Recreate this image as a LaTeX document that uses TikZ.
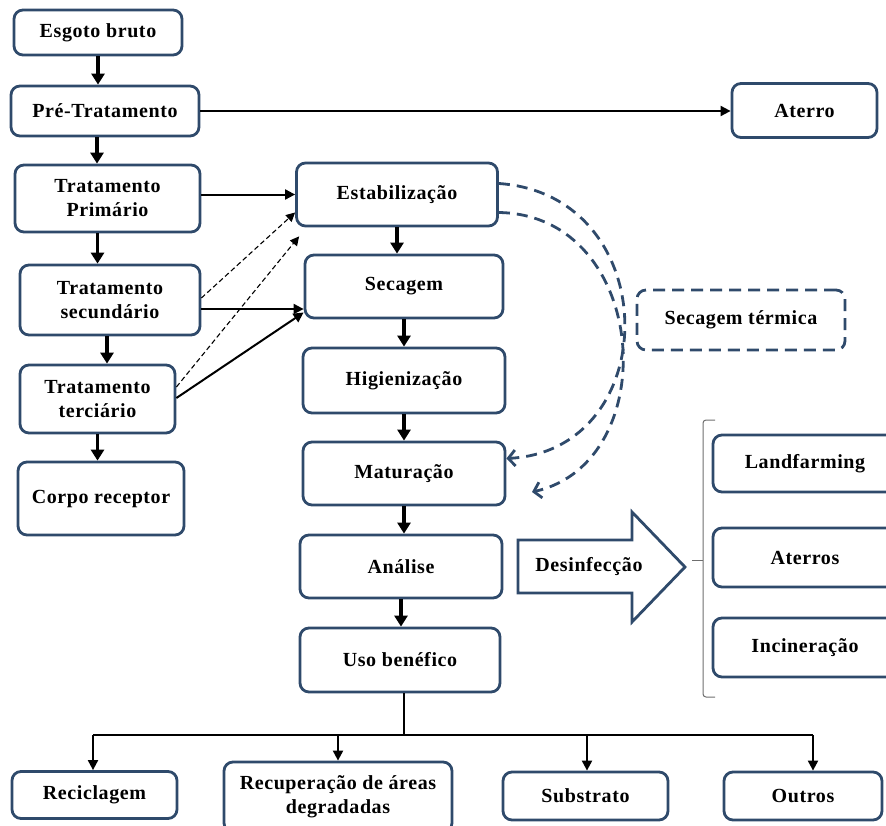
\documentclass[tikz,border=0pt]{standalone}
\usepackage{fontspec}
\setmainfont[LetterSpace=3]{Liberation Serif}
\usetikzlibrary{arrows.meta,calc}

\definecolor{navy}{HTML}{2F4A6B}
\definecolor{bracegray}{HTML}{6E6E6E}

\tikzset{
  box/.style={draw=navy, line width=2.8pt, rounded corners=9pt, fill=white,
    align=center, inner sep=0pt, font=\bfseries\fontsize{20}{24}\selectfont},
  flow/.style={line width=3.2pt, -{Triangle[length=11pt,width=13pt]}},
  link/.style={line width=2pt, -{Triangle[length=10pt,width=10pt]}},
  dlink/.style={line width=1.1pt, dash pattern=on 5pt off 3pt, -{Triangle[length=9pt,width=9pt]}},
  plain/.style={line width=2pt},
  loop/.style={draw=navy, line width=2.8pt, dash pattern=on 11pt off 7pt,
    -{Straight Barb[length=7pt,width=16pt]}},
  label/.style={font=\bfseries\fontsize{20}{24}\selectfont}
}

\begin{document}
\begin{tikzpicture}[x=1pt,y=-1pt]
\useasboundingbox (0,0) rectangle (886,825);
\clip (0,0) rectangle (886,825);

% left column: treatment line
\node[box, minimum width=168pt, minimum height=45pt] (esg)   at (98,32.5)   {Esgoto bruto};
\node[box, minimum width=188pt, minimum height=50pt] (pre)   at (105,111)   {Pré-Tratamento};
\node[box, minimum width=145pt, minimum height=54pt] (aterro) at (804.5,110.5) {Aterro};
\node[box, minimum width=185pt, minimum height=67pt] (prim)  at (107.5,198.5) {Tratamento\\Primário};
\node[box, minimum width=180pt, minimum height=70pt] (sec)   at (110,300)   {Tratamento\\secundário};
\node[box, minimum width=155pt, minimum height=68pt] (ter)   at (97.5,399)  {Tratamento\\terciário};
\node[box, minimum width=166pt, minimum height=73pt] (corpo) at (101,498.5) {Corpo receptor};

% central column: sludge processing
\node[box, minimum width=201pt, minimum height=63pt] (estab) at (397,194.5) {Estabilização};
\node[box, minimum width=198pt, minimum height=63pt] (secag) at (404,286.5) {Secagem};
\node[box, minimum width=202pt, minimum height=65pt] (hig)   at (404,380.5) {Higienização};
\node[box, minimum width=202pt, minimum height=63pt] (mat)   at (404,473.5) {Maturação};
\node[box, minimum width=202pt, minimum height=63pt] (anal)  at (401,566.5) {Análise};
\node[box, minimum width=200pt, minimum height=64pt] (uso)   at (400,660)   {Uso benéfico};

% thermal drying (dashed)
\node[box, dash pattern=on 12pt off 7pt, minimum width=208pt, minimum height=60pt] (sterm) at (741,320) {Secagem térmica};

% final destinations on the right
\node[box, minimum width=184pt, minimum height=57pt] (land) at (805,463.5) {Landfarming};
\node[box, minimum width=184pt, minimum height=59pt] (aters) at (805,557.5) {Aterros};
\node[box, minimum width=184pt, minimum height=59pt] (incin) at (805,647.5) {Incineração};

% beneficial uses at the bottom
\node[box, minimum width=165pt, minimum height=47pt] (recic) at (94.5,795)  {Reciclagem};
\node[box, minimum width=228pt, minimum height=70pt] (recup) at (338,797)   {Recuperação de áreas\\degradadas};
\node[box, minimum width=165pt, minimum height=48pt] (subs)  at (585.5,796) {Substrato};
\node[box, minimum width=158pt, minimum height=48pt] (outros) at (803,796)  {Outros};

% vertical flow, left column
\draw[flow] (esg.south) -- (esg.south |- pre.north);
\draw[flow] ([xshift=-8pt]pre.south) -- ([xshift=-8pt]pre.south |- prim.north);
\draw[flow] ([xshift=-10pt]prim.south) -- ([xshift=-10pt]prim.south |- sec.north);
\draw[flow] ([xshift=-3pt]sec.south) -- ([xshift=-3pt]sec.south |- ter.north);
\draw[flow] (ter.south) -- (ter.south |- corpo.north);

% pre-treatment residue to landfill
\draw[link] (pre.east) -- (pre.east -| aterro.west);

% treatment sludges to processing
\draw[link] (prim.east |- estab.west) -- (estab.west);
\draw[link] ([yshift=-9pt]sec.east) -- ([yshift=-9pt]sec.east -| secag.west);
\draw[link] ([yshift=1pt]ter.east) -- ([yshift=-26pt]secag.west);
\draw[dlink] ([yshift=2pt]sec.east) -- ([yshift=-18pt]estab.west);
\draw[dlink] ([yshift=12pt]ter.east) -- ([shift={(4pt,-9pt)}]estab.south west);

% vertical flow, central column
\draw[flow] (estab.south) -- (estab.south |- secag.north);
\draw[flow] (secag.south) -- (secag.south |- hig.north);
\draw[flow] (hig.south) -- (hig.south |- mat.north);
\draw[flow] (mat.south) -- (mat.south |- anal.north);
\draw[flow] (anal.south) -- (anal.south |- uso.north);

% thermal drying bypass loops
\coordinate (loopend) at (532,492);
\draw[loop] ([yshift=11pt]estab.east) .. controls (665,195) and (665,450) .. ([yshift=15pt]mat.east);
\draw[loop] ([yshift=-18pt]estab.east) .. controls (650,215) and (665,462) .. (loopend);

% disinfection arrow
\draw[navy, line width=2.8pt, line join=miter, fill=white]
  (518,540) -- (632,540) -- (632,512) -- (685,567) -- (632,622) -- (632,593) -- (518,593) -- cycle;
\node[label] (desinf) at (589,567) {Desinfecção};

% brace grouping the final destinations
\draw[bracegray, line width=1pt, rounded corners=3pt] (715,420) -- (703,420) -- (703,697) -- (715,697);
\draw[bracegray, line width=1pt] (703,560) -- (692,560);

% distribution bus to beneficial uses
\coordinate (bus)  at (404,735);
\coordinate (busL) at (93,735);
\coordinate (busR) at (813,735);
\draw[plain] (uso.south -| bus) -- (bus);
\draw[plain] (busL) -- (busR);
\draw[link] (busL) -- (busL |- recic.north);
\draw[link] (recup.north |- bus) -- (recup.north);
\draw[link] ([xshift=1.5pt]subs.north |- bus) -- ([xshift=1.5pt]subs.north);
\draw[link] (busR) -- (busR |- outros.north);
\end{tikzpicture}
\end{document}
